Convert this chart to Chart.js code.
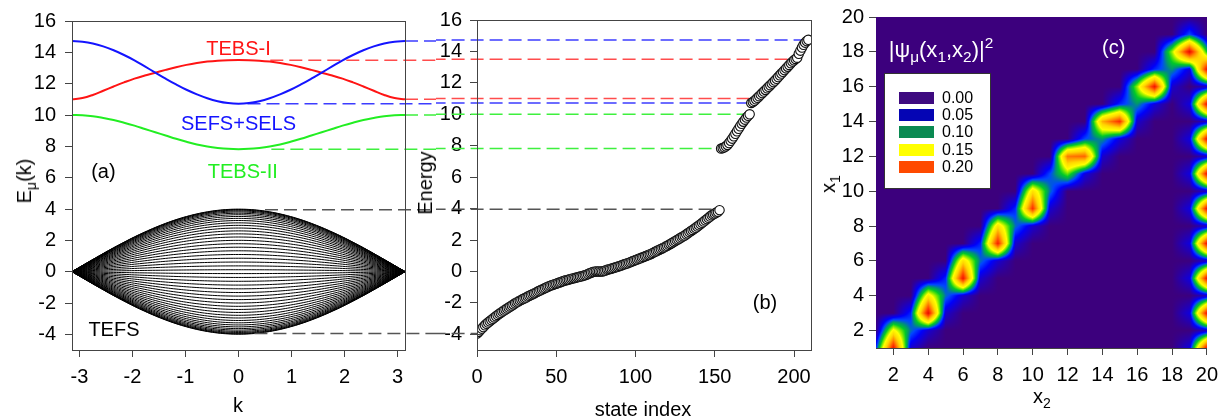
<!DOCTYPE html>
<html>
<head>
<meta charset="utf-8">
<script src="https://cdn.jsdelivr.net/npm/chart.js@4.4.1/dist/chart.umd.min.js"></script>
<style>
	body { margin: 0; background: #fff; width: 1226px; height: 418px; position: relative; overflow: hidden;
		font-family: "Liberation Sans", Arial, sans-serif; }
	canvas { position: absolute; top: 0; }
	#ChartBand { left: 0; }
	#ChartEnergy { left: 436px; }
	#ChartWave { left: 830px; }
	.lbl { position: absolute; font-size: 20px; color: #000; white-space: nowrap; line-height: 1;
		transform: translate(-50%, -50%); }
	.rot { transform: translate(-50%, -50%) rotate(-90deg); }
	sub { font-size: 0.7em; vertical-align: -0.35em; line-height: 0; }
	sup { font-size: 0.7em; vertical-align: 0.6em; line-height: 0; }
	#waveLegend { position: absolute; left: 884px; top: 73px; width: 105px; height: 114px; background: #fff;
		border: 1px solid #333; }
	.key { position: absolute; left: 14px; width: 35px; height: 12px; }
	.keyText { position: absolute; left: 57px; font-size: 16px; line-height: 1; color: #000; }
</style>
</head>
<body>
<canvas id="ChartBand" width="436" height="418"></canvas>
<canvas id="ChartEnergy" width="394" height="418"></canvas>
<canvas id="ChartWave" width="396" height="418"></canvas>

<div class="lbl rot" style="left:24px; top:181px;">E<sub>μ</sub>(k)</div>
<div class="lbl" style="left:238px; top:405px;">k</div>
<div class="lbl rot" style="left:425px; top:183px;">Energy</div>
<div class="lbl" style="left:643px; top:409px;">state index</div>
<div class="lbl rot" style="left:828px; top:184px;">x<sub>1</sub></div>
<div class="lbl" style="left:1042px; top:396px;">x<sub>2</sub></div>
<div class="lbl" style="left:941px; top:50px; color:#fff; font-size:22px;">|ψ<sub>μ</sub>(x<sub>1</sub>,x<sub>2</sub>)|<sup>2</sup></div>
<div id="waveLegend"></div>

<script>
// --------------
// DATA
// --------------

// panel (a): band structure, k from -pi to pi
const kGrid = [-3.1416, -2.9452, -2.7489, -2.5525, -2.3562, -2.1598, -1.9635, -1.7671, -1.5708, -1.3744, -1.1781,
	-0.9817, -0.7854, -0.5890, -0.3927, -0.1963, 0, 0.1963, 0.3927, 0.5890, 0.7854, 0.9817, 1.1781, 1.3744, 1.5708,
	1.7671, 1.9635, 2.1598, 2.3562, 2.5525, 2.7489, 2.9452, 3.1416];
// envelope of the TEFS band (relative height)
const tefsShape = [0, 0.098, 0.195, 0.290, 0.383, 0.471, 0.556, 0.634, 0.707, 0.773, 0.832, 0.882, 0.924, 0.957,
	0.981, 0.995, 1, 0.995, 0.981, 0.957, 0.924, 0.882, 0.832, 0.773, 0.707, 0.634, 0.556, 0.471, 0.383, 0.290,
	0.195, 0.098, 0];
// height of each TEFS curve at k = 0
const tefsAmplitude = [3.992, 3.970, 3.932, 3.879, 3.812, 3.730, 3.634, 3.524, 3.401, 3.265, 3.116, 2.956, 2.785,
	2.603, 2.412, 2.212, 2.000, 1.783, 1.560, 1.332, 1.096, 0.857, 0.614, 0.369, 0.123,
	-0.123, -0.369, -0.614, -0.857, -1.096, -1.332, -1.560, -1.783, -2.000, -2.212, -2.412, -2.603, -2.785, -2.956,
	-3.116, -3.265, -3.401, -3.524, -3.634, -3.730, -3.812, -3.879, -3.932, -3.970, -3.992];
const tebs1Energy = [11.0, 11.08, 11.28, 11.55, 11.82, 12.08, 12.32, 12.52, 12.7, 12.88, 13.05, 13.2, 13.32, 13.41,
	13.47, 13.5, 13.51, 13.5, 13.47, 13.41, 13.32, 13.2, 13.05, 12.88, 12.7, 12.52, 12.32, 12.08, 11.82, 11.55,
	11.28, 11.08, 11.0];
const sefsEnergy = [14.72, 14.68, 14.57, 14.38, 14.13, 13.83, 13.49, 13.1, 12.71, 12.32, 11.95, 11.61, 11.32, 11.07,
	10.88, 10.76, 10.72, 10.76, 10.88, 11.07, 11.32, 11.61, 11.95, 12.32, 12.71, 13.1, 13.49, 13.83, 14.13, 14.38,
	14.57, 14.68, 14.72];
const tebs2Energy = [10.0, 9.98, 9.92, 9.81, 9.68, 9.51, 9.32, 9.11, 8.9, 8.69, 8.48, 8.29, 8.12, 7.99, 7.9, 7.84,
	7.82, 7.84, 7.9, 7.99, 8.12, 8.29, 8.48, 8.69, 8.9, 9.11, 9.32, 9.51, 9.68, 9.81, 9.92, 9.98, 10.0];

// dashed guide lines linking band edges (a) to the states (b)
const guideEnergy = [14.72, 13.5, 11.0, 10.72, 10.0, 7.82, 3.95, -3.95];
const guideStartK = [3.1416, 0.6, 3.1416, 0.17, 3.1416, 0.62, 0.5, 0.3];
const guideEndIndex = [209, 202, 177, 173, 172, 154, 153, 0];
const guideColor = ["#3c3cff", "#ff4c4c", "#ff4c4c", "#3c3cff", "#3ef03e", "#3ef03e", "#555", "#555"];

// panel (b): sorted eigen-energies, state index 0..209
const stateEnergy = [
	-3.96, -3.85, -3.74, -3.64, -3.54, -3.43, -3.33, -3.25, -3.17, -3.09,
	-3.01, -2.93, -2.85, -2.77, -2.70, -2.63, -2.56, -2.49, -2.43, -2.36,
	-2.30, -2.23, -2.17, -2.10, -2.03, -1.97, -1.92, -1.86, -1.81, -1.76,
	-1.71, -1.66, -1.60, -1.55, -1.50, -1.45, -1.40, -1.35, -1.30, -1.25,
	-1.20, -1.15, -1.11, -1.06, -1.01, -0.96, -0.92, -0.88, -0.85, -0.81,
	-0.78, -0.74, -0.71, -0.67, -0.63, -0.60, -0.56, -0.54, -0.51, -0.48,
	-0.46, -0.43, -0.41, -0.38, -0.36, -0.33, -0.31, -0.28, -0.25, -0.21,
	-0.17, -0.12, -0.08, -0.04, -0.02, 0.0, 0.0, 0.0, 0.0, 0.0,
	0.02, 0.06, 0.10, 0.13, 0.16, 0.19, 0.22, 0.25, 0.28, 0.31,
	0.35, 0.38, 0.42, 0.45, 0.49, 0.52, 0.56, 0.60, 0.64, 0.68,
	0.72, 0.76, 0.80, 0.84, 0.88, 0.92, 0.96, 1.00, 1.04, 1.08,
	1.13, 1.18, 1.23, 1.28, 1.33, 1.38, 1.43, 1.48, 1.53, 1.58,
	1.63, 1.69, 1.75, 1.81, 1.87, 1.93, 1.99, 2.05, 2.11, 2.17,
	2.23, 2.29, 2.36, 2.43, 2.50, 2.57, 2.64, 2.71, 2.78, 2.86,
	2.93, 3.01, 3.09, 3.17, 3.25, 3.33, 3.41, 3.49, 3.57, 3.63,
	3.69, 3.75, 3.80, 3.90,
	7.82, 7.85, 7.90, 7.96, 8.05, 8.17, 8.31, 8.45, 8.60, 8.76,
	8.92, 9.08, 9.24, 9.39, 9.53, 9.66, 9.79, 9.90, 10.0,
	10.72, 10.78, 10.86, 10.95, 11.05, 11.15, 11.25, 11.35, 11.45, 11.55,
	11.65, 11.75, 11.85, 11.95, 12.05, 12.15, 12.26, 12.37, 12.48, 12.59,
	12.70, 12.81, 12.92, 13.03, 13.14, 13.25, 13.35, 13.44, 13.52, 13.60,
	13.85, 14.05, 14.25, 14.42, 14.56, 14.66, 14.74];

const kTicks = [-3, -2, -1, 0, 1, 2, 3];
const energyTicks = [-4, -2, 0, 2, 4, 6, 8, 10, 12, 14, 16];
const stateTicks = [0, 50, 100, 150, 200];
const siteTicks = [2, 4, 6, 8, 10, 12, 14, 16, 18, 20];

// panel (c): |psi(x1,x2)|^2 on the 20x20 lattice, non-zero sites only
const cellX1 = [1, 2, 3, 4, 5, 6, 7, 8, 9, 10,
	2, 4, 6, 8, 10, 1, 3, 5, 7, 9,
	1, 3, 5, 7, 9, 2, 4, 6, 8,
	11, 11, 12, 12, 13, 13, 14, 14, 15, 15, 16, 16, 17, 17, 18, 18, 19, 18,
	12, 14, 16, 11, 13, 15, 17,
	1, 3, 5, 7, 9, 11, 13, 15, 17,
	1, 3, 5, 7, 9, 11, 13, 15,
	2, 4, 6, 8, 10, 12, 14, 16];
const cellX2 = [2, 2, 4, 4, 6, 6, 8, 8, 10, 10,
	3, 5, 7, 9, 11, 1, 3, 5, 7, 9,
	3, 5, 7, 9, 11, 4, 6, 8, 10,
	11, 12, 12, 13, 13, 14, 14, 15, 15, 16, 16, 17, 17, 18, 18, 19, 19, 20,
	14, 16, 18, 13, 15, 17, 19,
	20, 20, 20, 20, 20, 20, 20, 20, 20,
	19, 19, 19, 19, 19, 19, 19, 19,
	20, 20, 20, 20, 20, 20, 20, 20];
const cellValue = [0.30, 0.16, 0.31, 0.17, 0.30, 0.18, 0.29, 0.18, 0.28, 0.18,
	0.07, 0.07, 0.07, 0.07, 0.07, 0.05, 0.05, 0.05, 0.05, 0.05,
	0.025, 0.025, 0.025, 0.025, 0.025, 0.025, 0.025, 0.025, 0.025,
	0.06, 0.12, 0.24, 0.25, 0.06, 0.08, 0.21, 0.28, 0.05, 0.08, 0.13, 0.30, 0.05, 0.08, 0.13, 0.31, 0.06, 0.10,
	0.025, 0.025, 0.025, 0.03, 0.03, 0.03, 0.03,
	0.30, 0.30, 0.30, 0.30, 0.30, 0.30, 0.30, 0.30, 0.30,
	0.03, 0.03, 0.03, 0.03, 0.03, 0.03, 0.03, 0.03,
	0.02, 0.02, 0.02, 0.02, 0.02, 0.02, 0.02, 0.02];

const heatStops = [0, 0.02, 0.04, 0.06, 0.08, 0.10, 0.125, 0.15, 0.19, 0.23, 0.27, 0.31];
const heatColors = [[60, 0, 125], [30, 0, 190], [0, 0, 250], [0, 70, 255], [0, 150, 110], [0, 200, 40],
	[130, 235, 0], [255, 255, 0], [255, 215, 0], [255, 140, 0], [255, 60, 0], [230, 10, 0]];
const legendLevels = ["0.00", "0.05", "0.10", "0.15", "0.20"];
const legendColors = ["#3e0a80", "#0505b4", "#0a8a52", "#ffff00", "#ff4a00"];

// --------------
// CONFIG CHART
// --------------

Chart.defaults.font.family = '"Liberation Sans", Arial, sans-serif';
Chart.defaults.color = "#000";

const linearAxis = (ticksArr, min, max, pad, size) => ({
	type: "linear",
	min: min,
	max: max,
	afterBuildTicks: (s) => { s.ticks = ticksArr.map((v) => ({ value: v })); },
	afterFit: (s) => {
		if (s.isHorizontal()) s.height = size; else s.width = size;
	},
	grid: { display: true, drawOnChartArea: false, drawTicks: true, tickLength: 7, color: "#444", lineWidth: 1 },
	border: { display: true, color: "#444", width: 1 },
	ticks: { color: "#000", font: { size: 20 }, padding: pad, maxRotation: 0, autoSkip: false },
});

// box round the plot area
const frameBox = {
	id: "frameBox",
	afterDraw(chart) {
		const { ctx, chartArea: a } = chart;
		ctx.save();
		ctx.strokeStyle = "#444";
		ctx.lineWidth = 1;
		ctx.strokeRect(Math.round(a.left) + 0.5, Math.round(a.top) + 0.5,
			Math.round(a.right - a.left), Math.round(a.bottom - a.top));
		ctx.restore();
	},
};

// text notes placed in data coordinates
const noteText = {
	id: "noteText",
	afterDatasetsDraw(chart, args, opts) {
		const { ctx, scales } = chart;
		ctx.save();
		ctx.textAlign = "center";
		ctx.textBaseline = "middle";
		(opts.items || []).forEach((n) => {
			ctx.font = (n.size || 20) + 'px "Liberation Sans", Arial, sans-serif';
			ctx.fillStyle = n.color;
			ctx.fillText(n.text, scales.x.getPixelForValue(n.x), scales.y.getPixelForValue(n.y));
		});
		ctx.restore();
	},
};

// CHART (a) BAND
const setBandChart = () => {
	const datasets = [];
	const curve = (ys, color, width) => ({
		data: kGrid.map((k, i) => ({ x: k, y: ys[i] })),
		showLine: true, borderColor: color, borderWidth: width, pointRadius: 0, tension: 0.4,
	});
	datasets.push(curve(sefsEnergy, "#1414ff", 2));
	datasets.push(curve(tebs1Energy, "#ff1414", 2));
	datasets.push(curve(tebs2Energy, "#22ee22", 2));
	guideEnergy.forEach((e, i) => {
		datasets.push({
			data: [{ x: guideStartK[i], y: e }, { x: 4.5, y: e }],
			showLine: true, borderColor: guideColor[i], borderWidth: 1.5, borderDash: [13, 6],
			pointRadius: 0, clip: false,
		});
	});
	tefsAmplitude.forEach((amp) => {
		datasets.push(curve(tefsShape.map((s) => amp * s), "#000", 1));
	});

	const configBand = {
		type: "scatter",
		data: { datasets: datasets },
		options: {
			responsive: false,
			animation: false,
			events: [],
			layout: { padding: { left: 0, right: 31, top: 16, bottom: 0 } },
			scales: {
				x: linearAxis(kTicks, -Math.PI, Math.PI, 8, 68),
				y: linearAxis(energyTicks, -5, 16, 9, 72),
			},
			plugins: {
				legend: { display: false },
				tooltip: { enabled: false },
				noteText: {
					items: [
						{ x: 0, y: 14.2, text: "TEBS-I", color: "#ff1414" },
						{ x: 0, y: 9.4, text: "SEFS+SELS", color: "#1414ff" },
						{ x: 0.08, y: 6.3, text: "TEBS-II", color: "#22ee22" },
						{ x: -2.55, y: 6.3, text: "(a)", color: "#000" },
						{ x: -2.35, y: -3.75, text: "TEFS", color: "#000" },
					],
				},
			},
		},
		plugins: [frameBox, noteText],
	};

	new Chart(document.getElementById("ChartBand"), configBand);
};

// CHART (b) STATE ENERGY
const setEnergyChart = () => {
	const datasets = [{
		data: stateEnergy.map((e, i) => ({ x: i, y: e })),
		pointRadius: 4.7,
		pointBackgroundColor: "#fff",
		pointBorderColor: "#111",
		pointBorderWidth: 1.1,
	}];
	guideEnergy.forEach((e, i) => {
		datasets.push({
			data: [{ x: -40, y: e }, { x: guideEndIndex[i], y: e }],
			showLine: true, borderColor: guideColor[i], borderWidth: 1.5, borderDash: [13, 6],
			pointRadius: 0, clip: false,
		});
	});

	const configEnergy = {
		type: "scatter",
		data: { datasets: datasets },
		options: {
			responsive: false,
			animation: false,
			events: [],
			layout: { padding: { left: 0, right: 19, top: 16, bottom: 0 } },
			scales: {
				x: linearAxis(stateTicks, 0, 210.7, 8, 68),
				y: linearAxis(energyTicks, -5, 16, 8, 41),
			},
			plugins: {
				legend: { display: false },
				tooltip: { enabled: false },
				noteText: { items: [{ x: 181.7, y: -2.05, text: "(b)", color: "#000" }] },
			},
		},
		plugins: [frameBox, noteText],
	};

	new Chart(document.getElementById("ChartEnergy"), configEnergy);
};

// colour of one |psi|^2 value
const heatColor = (v) => {
	if (v <= heatStops[0]) return heatColors[0];
	for (let i = 1; i < heatStops.length; i++) {
		if (v <= heatStops[i]) {
			const t = (v - heatStops[i - 1]) / (heatStops[i] - heatStops[i - 1]);
			const a = heatColors[i - 1], b = heatColors[i];
			return [a[0] + (b[0] - a[0]) * t, a[1] + (b[1] - a[1]) * t, a[2] + (b[2] - a[2]) * t];
		}
	}
	return heatColors[heatColors.length - 1];
};

// contour fill of the lattice values, drawn through the chart scales
const heatField = {
	id: "heatField",
	beforeDatasetsDraw(chart) {
		const { ctx, chartArea: a, scales } = chart;
		const grid = [];
		for (let i = 0; i < 20; i++) grid.push(new Array(20).fill(0));
		chart.data.datasets[0].data.forEach((c) => { grid[c.y - 1][c.x - 1] = c.v; });
		const at = (r, c) => grid[Math.max(0, Math.min(19, r))][Math.max(0, Math.min(19, c))];

		const left = Math.round(a.left), top = Math.round(a.top);
		const w = Math.round(a.right) - left, h = Math.round(a.bottom) - top;
		const img = ctx.createImageData(w, h);
		for (let py = 0; py < h; py++) {
			const r = scales.y.getValueForPixel(top + py + 0.5) - 1;
			const r0 = Math.floor(r), fr = r - r0;
			for (let px = 0; px < w; px++) {
				const c = scales.x.getValueForPixel(left + px + 0.5) - 1;
				const c0 = Math.floor(c), fc = c - c0;
				const v = at(r0, c0) * (1 - fr) * (1 - fc) + at(r0, c0 + 1) * (1 - fr) * fc +
					at(r0 + 1, c0) * fr * (1 - fc) + at(r0 + 1, c0 + 1) * fr * fc;
				const col = heatColor(v);
				const o = (py * w + px) * 4;
				img.data[o] = col[0];
				img.data[o + 1] = col[1];
				img.data[o + 2] = col[2];
				img.data[o + 3] = 255;
			}
		}
		ctx.putImageData(img, left, top);
	},
};

// CHART (c) WAVE FUNCTION
const setWaveChart = () => {
	const configWave = {
		type: "scatter",
		data: {
			datasets: [{
				data: cellX1.map((x1, i) => ({ x: cellX2[i], y: x1, v: cellValue[i] })),
				pointRadius: 0,
			}],
		},
		options: {
			responsive: false,
			animation: false,
			events: [],
			layout: { padding: { left: 0, right: 17, top: 16, bottom: 0 } },
			scales: {
				x: linearAxis(siteTicks, 1, 20, 8, 70),
				y: linearAxis(siteTicks, 1, 20, 5, 46),
			},
			plugins: {
				legend: { display: false },
				tooltip: { enabled: false },
				noteText: { items: [{ x: 14.65, y: 18.2, text: "(c)", color: "#fff" }] },
			},
		},
		plugins: [heatField, noteText],
	};

	new Chart(document.getElementById("ChartWave"), configWave);
};

const setWaveLegend = () => {
	const box = document.getElementById("waveLegend");
	legendLevels.forEach((lv, i) => {
		const top = 18 + i * 17.2;
		const key = document.createElement("div");
		key.className = "key";
		key.style.top = top + "px";
		key.style.background = legendColors[i];
		box.appendChild(key);
		const txt = document.createElement("div");
		txt.className = "keyText";
		txt.style.top = (top - 2) + "px";
		txt.textContent = lv;
		box.appendChild(txt);
	});
};

setBandChart();
setEnergyChart();
setWaveChart();
setWaveLegend();
</script>
</body>
</html>
